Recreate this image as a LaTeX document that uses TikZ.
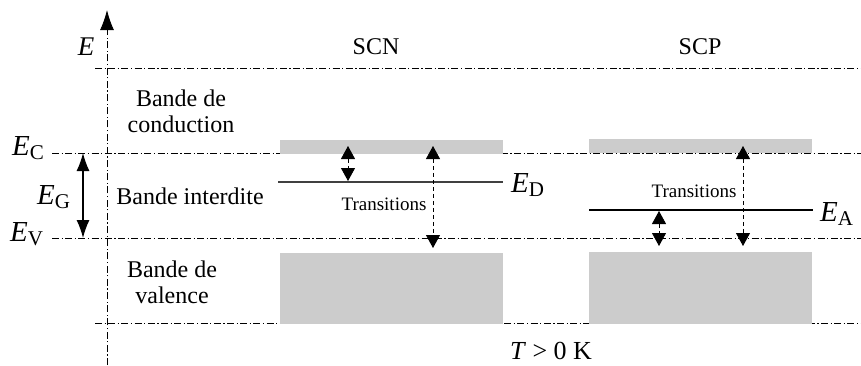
\documentclass[tikz,border=0pt]{standalone}
\usepackage{fontspec}
\setmainfont{Liberation Serif}
\usetikzlibrary{arrows.meta}
\newcommand\lab[1]{{\fontsize{29}{29}\selectfont\itshape E}\raisebox{-4pt}{\fontsize{21}{21}\selectfont #1}}
\tikzset{
  x=1pt, y=-1pt,
  dashdot/.style={line width=0.9pt, dash pattern=on 7pt off 2.5pt on 1.2pt off 2.5pt},
  band/.style={fill=black!20, draw=none},
  txt/.style={inner sep=0pt, font=\fontsize{24}{26}\selectfont, align=center},
  small/.style={inner sep=0pt, font=\fontsize{19}{21}\selectfont},
  lbl/.style={inner sep=0pt},
  tip/.style={},
  trans/.style={line width=0.9pt, dash pattern=on 4pt off 3pt, {Triangle[length=13pt,width=14pt]}-{Triangle[length=13pt,width=14pt]}},
}
\begin{document}
\begin{tikzpicture}
\useasboundingbox (0,0) rectangle (861,365);
% coordinates
\coordinate (axB) at (107,365);
\coordinate (axT) at (107,10);
\coordinate (t0) at (95,68);   \coordinate (t1) at (861,68);
\coordinate (c0) at (52,153);  \coordinate (c1) at (861,153);
\coordinate (v0) at (52,238);  \coordinate (v1) at (861,238);
\coordinate (b0) at (95,323);  \coordinate (b1) at (861,323);
% dash-dot lines
\draw[dashdot] (t0) -- (t1);
\draw[dashdot] (c0) -- (c1);
\draw[dashdot] (v0) -- (v1);
\draw[dashdot] (b0) -- (b1);
\draw[dashdot, -{Latex[length=20pt,width=14pt]}] (axB) -- (axT);
% bands
\fill[band] (280,140) rectangle (503,154);
\fill[band] (280,253) rectangle (503,323.5);
\fill[band] (589,139) rectangle (812,153);
\fill[band] (589,252) rectangle (812,323.5);
% levels
\coordinate (d0) at (278,182); \coordinate (d1) at (503,182);
\draw[line width=1.4pt, black!75] (d0) -- (d1);
\coordinate (a0) at (589,210); \coordinate (a1) at (813,210);
\draw[line width=1.1pt] (a0) -- (a1);
% gap arrow
\coordinate (g0) at (83,153); \coordinate (g1) at (83,238);
\draw[line width=1.2pt, {Latex[length=18pt,width=13pt]}-{Latex[length=18pt,width=13pt]}] (g0) -- (g1);
% transitions arrows
\coordinate (n1a) at (348,146); \coordinate (n1b) at (348,181);
\coordinate (n2a) at (433,146); \coordinate (n2b) at (433,248);
\coordinate (p1a) at (659,211); \coordinate (p1b) at (659,246);
\coordinate (p2a) at (743,146); \coordinate (p2b) at (743,246);
\draw[trans] (n1a) -- (n1b);
\draw[trans] (n2a) -- (n2b);
\draw[trans] (p1a) -- (p1b);
\draw[trans] (p2a) -- (p2b);
% texts
\node[lbl, font=\fontsize{27}{27}\selectfont\itshape] (E) at (86,47) {E};
\node[txt] (scn) at (376,47) {SCN};
\node[txt] (scp) at (700,47) {SCP};
\node[txt] (cond) at (181,111) {Bande de\\conduction};
\node[txt] (interd) at (190,196) {Bande interdite};
\node[txt] (val) at (172,282) {Bande de\\valence};
\node[small] (tn) at (384,204) {Transitions};
\node[small] (tp) at (694,191) {Transitions};
\node[lbl, anchor=base west] (EC) at (12,155) {\lab{C}};
\node[lbl, anchor=base west] (EV) at (10,241) {\lab{V}};
\node[lbl, anchor=base west] (EG) at (37,204) {\lab{G}};
\node[lbl, anchor=base west] (ED) at (511,192) {\lab{D}};
\node[lbl, anchor=base west] (EA) at (820,221) {\lab{A}};
\node[lbl, font=\fontsize{26}{26}\selectfont, anchor=base] (T) at (551,359) {\textit{T} > 0 K};
\end{tikzpicture}
\end{document}
